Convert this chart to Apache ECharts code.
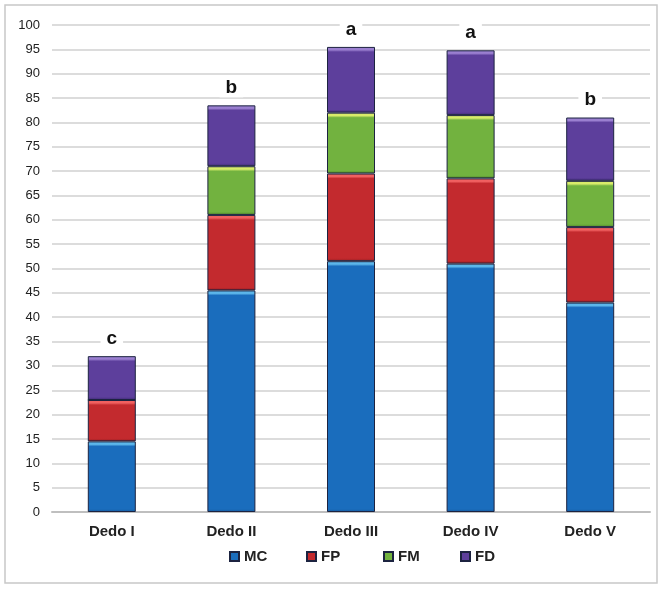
<!DOCTYPE html>
<html>
<head>
<meta charset="utf-8">
<script src="https://cdn.jsdelivr.net/npm/echarts@6/dist/echarts.min.js"></script>
<style>
  html, body { margin: 0; padding: 0; background: #fff; }
  #chart { width: 663px; height: 594px; }
</style>
</head>
<body>
<div id="chart"></div>
<script>
// dados
const categories = ['Dedo I', 'Dedo II', 'Dedo III', 'Dedo IV', 'Dedo V']
const seriesNames = ['MC', 'FP', 'FM', 'FD']
const mc = [14.5, 45.5, 51.5, 51, 43]
const fp = [8.5, 15.5, 18, 17.5, 15.5]
const fm = [0, 10, 12.5, 13, 9.5]
const fd = [9, 12.5, 13.5, 13.3, 13]
const letters = ['c', 'b', 'a', 'a', 'b']
const yTicks = { min: 0, max: 100, interval: 5 }

const font = 'Liberation Sans'
const pxPerUnit = 487 / 100 // altura da área de plotagem / escala

// faixa clara fina no topo de cada segmento (bisel do Excel)
function shade(colors) {
  return params => {
    const h = Math.max(params.value * pxPerUnit, 1)
    const a = Math.min(3 / h, 0.3)
    const b = Math.min(5 / h, 0.4)
    return new echarts.graphic.LinearGradient(0, 0, 0, 1, [
      { offset: 0, color: colors[0] },
      { offset: a, color: colors[0] },
      { offset: b, color: colors[1] },
      { offset: 1 - a, color: colors[1] },
      { offset: 1, color: colors[2] }
    ])
  }
}

function barSeries(name, data, colors, extra) {
  return Object.assign({
    name,
    type: 'bar',
    stack: 'total',
    barWidth: 48,
    data,
    itemStyle: {
      color: shade(colors),
      borderColor: '#1c2340',
      borderWidth: 1
    }
  }, extra || {})
}

// uma legenda por item, com colunas de largura igual (como no Excel)
const legends = seriesNames.map((name, i) => ({
  top: 544,
  left: 224 + i * 77,
  itemWidth: 9,
  itemHeight: 9,
  icon: 'rect',
  textStyle: { fontFamily: font, fontWeight: 'bold', fontSize: 15, color: '#222' },
  data: [name]
}))

const chart = echarts.init(document.getElementById('chart'))

chart.setOption({
  backgroundColor: '#fff',
  animation: false,
  color: ['#1a6dbd', '#c32a2e', '#72b23f', '#5d3f9c'],
  graphic: [{
    type: 'rect',
    shape: { x: 5, y: 5, width: 652, height: 578 },
    style: { fill: 'none', stroke: '#c8c8c8', lineWidth: 1.5 },
    z: -1
  }],
  grid: { left: 52, right: 13, top: 25, bottom: 82 },
  legend: legends,
  xAxis: {
    type: 'category',
    data: categories,
    axisTick: { show: false },
    axisLine: { lineStyle: { color: '#bfbfbf', width: 2 } },
    axisLabel: { fontFamily: font, fontWeight: 'bold', fontSize: 15, color: '#222', margin: 12 }
  },
  yAxis: {
    type: 'value',
    min: yTicks.min,
    max: yTicks.max,
    interval: yTicks.interval,
    axisLine: { show: false },
    axisTick: { show: false },
    axisLabel: { fontFamily: font, fontSize: 13, color: '#222', margin: 12 },
    splitLine: { lineStyle: { color: '#d0d0d0', width: 1.5 } }
  },
  series: [
    barSeries('MC', mc, ['#5cb6ea', '#1a6dbd', '#155a9e']),
    barSeries('FP', fp, ['#f06060', '#c32a2e', '#9a1e22']),
    barSeries('FM', fm, ['#d8ec6a', '#72b23f', '#4f8a2a']),
    barSeries('FD', fd, ['#9a7fd0', '#5d3f9c', '#412b75'], {
      label: {
        show: true,
        position: 'top',
        distance: 8,
        formatter: p => letters[p.dataIndex],
        fontFamily: font,
        fontWeight: 'bold',
        fontSize: 19,
        color: '#111',
        backgroundColor: '#fff',
        padding: [0, 6]
      }
    })
  ]
})
</script>
</body>
</html>
